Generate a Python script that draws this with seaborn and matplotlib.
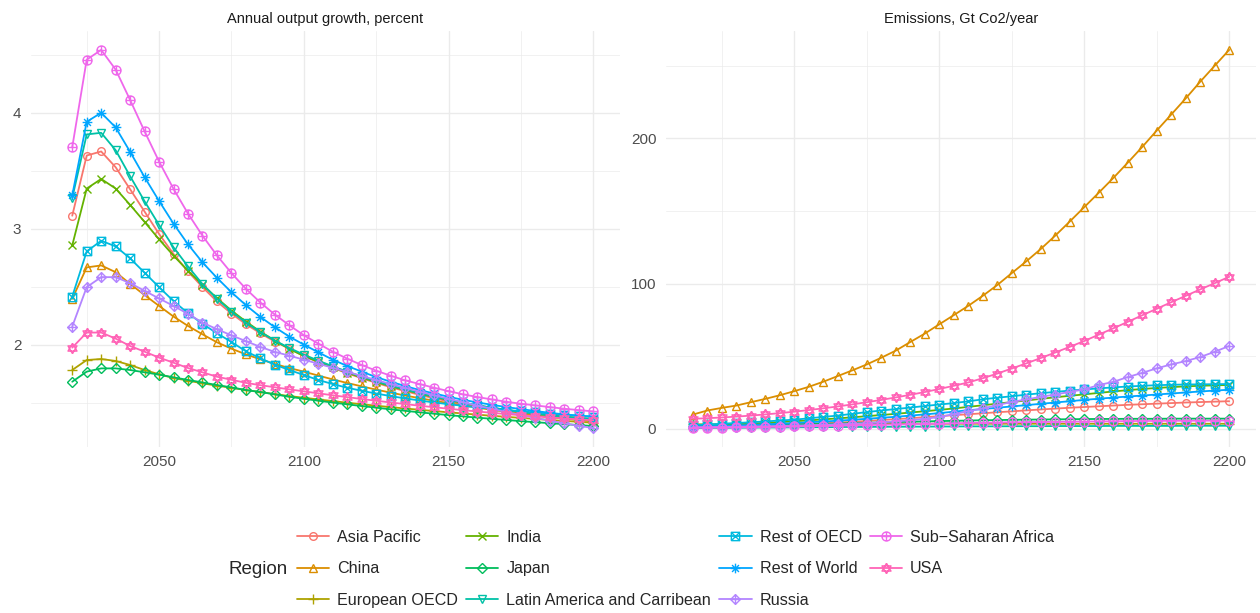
import numpy as np
import pandas as pd
import matplotlib
matplotlib.use('Agg')
import matplotlib.pyplot as plt
from matplotlib.path import Path
from matplotlib.ticker import FixedLocator
import seaborn as sns

sns.set_style('white')
plt.rcParams['font.family'] = ['Liberation Sans', 'DejaVu Sans']

# ---------------- data ----------------
regions = ['Asia Pacific', 'China', 'European OECD', 'India', 'Japan',
           'Latin America and Carribean', 'Rest of OECD', 'Rest of World',
           'Russia', 'Sub\u2212Saharan Africa', 'USA']
colors = ['#F8766D', '#DB8E00', '#AEA200', '#64B200', '#00BD5C', '#00C1A7',
          '#00BADE', '#00A6FF', '#B385FF', '#EF67EB', '#FF63B6']

years_growth = list(range(2020, 2201, 5))   # growth starts in 2020
years_emis = list(range(2015, 2201, 5))     # emissions start in 2015

# Annual output growth, percent
growth_asia_pacific = [3.112, 3.631, 3.666, 3.530, 3.340, 3.147, 2.954, 2.781, 2.631, 2.496, 2.372, 2.268, 2.176,
                       2.098, 2.026, 1.965, 1.902, 1.849, 1.799, 1.753, 1.710, 1.670, 1.633, 1.599, 1.567, 1.537,
                       1.510, 1.485, 1.462, 1.441, 1.422, 1.405, 1.389, 1.375, 1.362, 1.350, 1.340]
growth_china = [2.395, 2.666, 2.683, 2.625, 2.524, 2.427, 2.334, 2.242, 2.161, 2.089, 2.020, 1.965, 1.916, 1.873,
                1.833, 1.798, 1.767, 1.733, 1.700, 1.669, 1.640, 1.612, 1.586, 1.561, 1.538, 1.516, 1.495, 1.475,
                1.456, 1.438, 1.421, 1.405, 1.390, 1.376, 1.363, 1.351, 1.340]
growth_european_oecd = [1.781, 1.867, 1.876, 1.859, 1.824, 1.781, 1.744, 1.712, 1.689, 1.666, 1.646, 1.628, 1.608,
                        1.591, 1.573, 1.556, 1.542, 1.527, 1.513, 1.499, 1.486, 1.473, 1.461, 1.449, 1.438, 1.427,
                        1.416, 1.406, 1.396, 1.386, 1.377, 1.368, 1.359, 1.350, 1.342, 1.334, 1.326]
growth_india = [2.856, 3.346, 3.429, 3.346, 3.205, 3.058, 2.908, 2.767, 2.637, 2.516, 2.401, 2.294, 2.199, 2.112,
                2.035, 1.963, 1.902, 1.851, 1.803, 1.758, 1.716, 1.677, 1.641, 1.608, 1.577, 1.548, 1.521, 1.497,
                1.475, 1.455, 1.437, 1.420, 1.405, 1.391, 1.379, 1.368, 1.358]
growth_japan = [1.680, 1.767, 1.795, 1.795, 1.781, 1.761, 1.741, 1.718, 1.695, 1.674, 1.651, 1.631, 1.608, 1.591,
                1.571, 1.550, 1.533, 1.516, 1.500, 1.485, 1.470, 1.456, 1.442, 1.429, 1.416, 1.404, 1.392, 1.381,
                1.370, 1.360, 1.350, 1.340, 1.331, 1.322, 1.314, 1.306, 1.298]
growth_latin_america = [3.265, 3.813, 3.827, 3.677, 3.452, 3.236, 3.032, 2.839, 2.674, 2.522, 2.395, 2.285, 2.190,
                        2.107, 2.035, 1.971, 1.914, 1.862, 1.813, 1.767, 1.724, 1.684, 1.647, 1.613, 1.582, 1.552,
                        1.525, 1.500, 1.477, 1.456, 1.437, 1.420, 1.404, 1.390, 1.378, 1.368, 1.358]
growth_rest_oecd = [2.415, 2.804, 2.896, 2.847, 2.744, 2.620, 2.496, 2.375, 2.271, 2.179, 2.098, 2.023, 1.942, 1.882,
                    1.827, 1.781, 1.738, 1.695, 1.660, 1.628, 1.602, 1.578, 1.556, 1.536, 1.518, 1.501, 1.486, 1.472,
                    1.459, 1.447, 1.436, 1.425, 1.415, 1.405, 1.396, 1.387, 1.379]
growth_rest_world = [3.288, 3.922, 4.000, 3.873, 3.663, 3.444, 3.239, 3.043, 2.865, 2.709, 2.576, 2.452, 2.340,
                     2.239, 2.150, 2.069, 2.000, 1.934, 1.870, 1.816, 1.767, 1.720, 1.680, 1.643, 1.608, 1.579,
                     1.550, 1.524, 1.501, 1.481, 1.461, 1.444, 1.427, 1.412, 1.398, 1.386, 1.378]
growth_russia = [2.156, 2.496, 2.582, 2.582, 2.530, 2.464, 2.398, 2.334, 2.265, 2.190, 2.133, 2.080, 2.030, 1.980,
                 1.937, 1.905, 1.870, 1.835, 1.800, 1.765, 1.730, 1.695, 1.660, 1.627, 1.595, 1.563, 1.533, 1.503,
                 1.474, 1.446, 1.419, 1.393, 1.368, 1.344, 1.321, 1.300, 1.280]
growth_ssa = [3.703, 4.458, 4.542, 4.372, 4.110, 3.839, 3.579, 3.343, 3.130, 2.939, 2.769, 2.617, 2.481, 2.363,
              2.259, 2.167, 2.081, 2.009, 1.939, 1.879, 1.824, 1.775, 1.732, 1.692, 1.660, 1.628, 1.599, 1.571,
              1.548, 1.527, 1.507, 1.490, 1.476, 1.461, 1.447, 1.435, 1.424]
growth_usa = [1.974, 2.104, 2.104, 2.052, 1.988, 1.939, 1.888, 1.844, 1.798, 1.761, 1.723, 1.697, 1.670, 1.650,
              1.632, 1.614, 1.597, 1.580, 1.563, 1.547, 1.531, 1.516, 1.501, 1.487, 1.473, 1.460, 1.447, 1.435,
              1.423, 1.412, 1.401, 1.391, 1.381, 1.372, 1.363, 1.355, 1.347]

# Emissions, Gt Co2/year
emis_asia_pacific = [1.0, 1.2, 1.4, 1.7, 2.0, 2.3, 2.6, 3.0, 3.4, 3.9, 4.4, 4.9, 5.5, 6.1, 6.7, 7.4, 8.1, 8.8, 9.5,
                     10.1, 10.8, 11.5, 12.1, 12.8, 13.4, 14.0, 14.6, 15.1, 15.6, 16.1, 16.6, 17.0, 17.4, 17.8,
                     18.2, 18.5, 18.8, 19.1]
emis_china = [9.9, 12.7, 14.5, 16.1, 18.4, 20.7, 23.2, 26.0, 29.0, 32.5, 36.4, 40.3, 44.4, 49.0, 53.9, 59.8, 65.6,
              72.0, 78.3, 84.7, 91.6, 99.0, 107.2, 115.3, 123.8, 133.0, 142.7, 152.6, 162.5, 172.6, 183.2, 194.0,
              205.3, 216.3, 227.4, 238.9, 249.9, 260.8]
emis_european_oecd = [3.2, 3.2, 3.3, 3.3, 3.4, 3.4, 3.4, 3.5, 3.5, 3.5, 3.5, 3.6, 3.6, 3.6, 3.6, 3.6, 3.6, 3.6, 3.6,
                      3.6, 3.6, 3.6, 3.6, 3.6, 3.6, 3.6, 3.6, 3.6, 3.6, 3.6, 3.6, 3.6, 3.6, 3.6, 3.6, 3.6, 3.6, 3.6]
emis_india = [2.0, 2.4, 2.8, 3.2, 3.7, 4.2, 4.7, 5.3, 5.9, 6.6, 7.3, 8.0, 8.8, 9.6, 10.4, 11.3, 12.2, 13.1, 14.1,
              15.2, 16.3, 17.4, 18.5, 19.6, 20.7, 21.8, 22.8, 23.8, 24.8, 25.8, 26.7, 27.5, 28.2, 28.8, 29.3,
              29.7, 30.0, 30.3]
emis_japan = [1.5, 1.7, 1.9, 2.1, 2.3, 2.5, 2.7, 3.0, 3.2, 3.5, 3.7, 4.0, 4.2, 4.5, 4.7, 5.0, 5.2, 5.4, 5.6, 5.8,
              6.0, 6.1, 6.3, 6.4, 6.5, 6.6, 6.7, 6.8, 6.9, 6.9, 7.0, 7.0, 7.0, 7.1, 7.1, 7.1, 7.1, 7.1]
emis_latin_america = [0.6, 0.7, 0.8, 0.8, 0.9, 1.0, 1.0, 1.1, 1.2, 1.2, 1.3, 1.4, 1.4, 1.5, 1.5, 1.6, 1.6, 1.7, 1.7,
                      1.8, 1.8, 1.8, 1.9, 1.9, 1.9, 2.0, 2.0, 2.0, 2.0, 2.1, 2.1, 2.1, 2.1, 2.1, 2.2, 2.2, 2.2, 2.2]
emis_rest_oecd = [2.6, 3.1, 3.6, 4.1, 4.6, 5.2, 5.8, 6.4, 7.3, 8.3, 9.2, 10.4, 11.6, 12.7, 13.7, 14.7, 15.8, 16.8,
                  17.8, 19.0, 20.4, 21.5, 22.5, 23.6, 24.6, 25.5, 26.4, 27.2, 27.9, 28.6, 29.2, 29.7, 30.1, 30.4,
                  30.6, 30.7, 30.8, 30.9]
emis_rest_world = [1.5, 1.8, 2.1, 2.4, 2.8, 3.2, 3.6, 4.1, 4.6, 5.1, 5.7, 6.3, 7.0, 7.7, 8.4, 9.2, 10.0, 10.9, 11.9,
                   12.9, 13.7, 14.6, 15.5, 16.4, 17.3, 18.2, 19.1, 20.0, 20.8, 21.6, 22.3, 23.0, 23.7, 24.4, 25.1,
                   25.8, 26.4, 27.0]
emis_russia = [1.2, 1.3, 1.4, 1.5, 1.7, 1.9, 2.1, 2.3, 2.6, 2.9, 3.2, 3.6, 4.0, 4.5, 5.2, 6.0, 7.0, 8.2, 10.2, 12.2,
               14.1, 16.4, 18.6, 20.3, 22.1, 23.7, 25.5, 27.2, 30.2, 32.4, 35.7, 38.6, 41.7, 44.4, 46.7, 49.5,
               53.1, 57.1]
emis_ssa = [0.8, 0.9, 1.0, 1.1, 1.2, 1.4, 1.5, 1.7, 1.9, 2.1, 2.3, 2.5, 2.7, 2.9, 3.1, 3.3, 3.5, 3.7, 3.9, 4.1, 4.3,
            4.4, 4.6, 4.7, 4.8, 4.9, 5.0, 5.1, 5.2, 5.3, 5.4, 5.5, 5.5, 5.6, 5.6, 5.7, 5.7, 5.8]
emis_usa = [7.0, 7.4, 7.9, 8.5, 9.2, 10.0, 10.9, 11.9, 13.0, 14.2, 15.5, 16.9, 18.4, 20.0, 21.7, 23.5, 25.4, 27.5,
            29.7, 32.0, 34.9, 38.1, 41.6, 45.1, 48.8, 52.6, 56.5, 60.5, 64.9, 69.2, 73.7, 78.2, 82.7, 87.2, 91.6,
            96.0, 100.3, 104.7]

growth = [growth_asia_pacific, growth_china, growth_european_oecd, growth_india, growth_japan,
          growth_latin_america, growth_rest_oecd, growth_rest_world, growth_russia, growth_ssa, growth_usa]
emis = [emis_asia_pacific, emis_china, emis_european_oecd, emis_india, emis_japan, emis_latin_america,
        emis_rest_oecd, emis_rest_world, emis_russia, emis_ssa, emis_usa]

rows = []
for reg, g, e in zip(regions, growth, emis):
    rows += [(reg, 'growth', y, v) for y, v in zip(years_growth, g)]
    rows += [(reg, 'emis', y, v) for y, v in zip(years_emis, e)]
df = pd.DataFrame(rows, columns=['Region', 'panel', 'year', 'value'])


# ---------------- ggplot-like point shapes ----------------
def lines_path(*parts):
    verts, codes = [], []
    for pts in parts:
        verts += pts
        codes += [Path.MOVETO] + [Path.LINETO] * (len(pts) - 1)
    return Path(verts, codes)

sq_cross = lines_path([(-1, -1), (1, -1), (1, 1), (-1, 1), (-1, -1)], [(-1, -1), (1, 1)], [(-1, 1), (1, -1)])
asterisk = lines_path([(-1, 0), (1, 0)], [(0, -1), (0, 1)], [(-.71, -.71), (.71, .71)], [(-.71, .71), (.71, -.71)])
diam_plus = lines_path([(0, 1), (1, 0), (0, -1), (-1, 0), (0, 1)], [(-1, 0), (1, 0)], [(0, -1), (0, 1)])
circ_plus = Path.make_compound_path(Path.unit_circle(), lines_path([(-1, 0), (1, 0)], [(0, -1), (0, 1)]))
david = lines_path([(0, 1), (.866, -.5), (-.866, -.5), (0, 1)], [(0, -1), (.866, .5), (-.866, .5), (0, -1)])

markers = ['o', '^', '+', 'x', 'D', 'v', sq_cross, asterisk, diam_plus, circ_plus, david]
msizes = [5.5, 6, 7, 5.5, 5, 6, 6, 7, 7, 6.5, 7.5]

# ---------------- plot ----------------
fig = plt.figure(figsize=(12.6, 6.13), dpi=100)
ax1 = fig.add_axes([31 / 1260, 1 - 447 / 613, (620 - 31) / 1260, 416 / 613])
ax2 = fig.add_axes([666 / 1260, 1 - 447 / 613, (1256 - 666) / 1260, 416 / 613])

for ax, panel in [(ax1, 'growth'), (ax2, 'emis')]:
    sub = df[df.panel == panel]
    for reg, c, m, ms in zip(regions, colors, markers, msizes):
        sns.lineplot(data=sub[sub.Region == reg], x='year', y='value', ax=ax, color=c,
                     marker=m, markersize=ms, markerfacecolor='none', markeredgecolor=c,
                     markeredgewidth=1.0, linewidth=1.3, label=reg, legend=False)
    lo, hi = sub.value.min(), sub.value.max()
    pad = 0.05 * (hi - lo)
    ax.set_ylim(lo - pad, hi + pad)
    ax.set_xlim(2005.75, 2209.25)
    ax.set_xlabel('')
    ax.set_ylabel('')
    for s in ax.spines.values():
        s.set_visible(False)
    ax.xaxis.set_major_locator(FixedLocator([2050, 2100, 2150, 2200]))
    ax.xaxis.set_minor_locator(FixedLocator([2025, 2075, 2125, 2175]))
    ax.grid(which='major', color='#EBEBEB', linewidth=1.0)
    ax.grid(which='minor', color='#EBEBEB', linewidth=0.5)
    ax.set_axisbelow(True)
    ax.tick_params(which='both', length=0, labelsize=11, labelcolor='#4D4D4D')
    ax.tick_params(axis='x', pad=6)
    ax.tick_params(axis='y', pad=7)

ax1.yaxis.set_major_locator(FixedLocator([2, 3, 4]))
ax1.yaxis.set_minor_locator(FixedLocator([1.5, 2.5, 3.5, 4.5]))
ax2.yaxis.set_major_locator(FixedLocator([0, 100, 200]))
ax2.yaxis.set_minor_locator(FixedLocator([50, 150, 250]))

ax1.set_title('Annual output growth, percent', fontsize=10.5, color='#1A1A1A', pad=6)
ax2.set_title('Emissions, Gt Co2/year', fontsize=10.5, color='#1A1A1A', pad=6)

handles, labels = ax1.get_legend_handles_labels()
fig.legend(handles, labels, loc='upper left', bbox_to_anchor=(297 / 1260, 1 - 530 / 613), ncol=4,
           frameon=False, borderpad=0, borderaxespad=0, handlelength=2.0, handletextpad=0.5,
           columnspacing=0.5, labelspacing=1.02, fontsize=11.6)
fig.text(228 / 1260, 1 - 569 / 613, 'Region', fontsize=13.5, va='center', ha='left')

fig.savefig('out.png', dpi=100, facecolor='white')
